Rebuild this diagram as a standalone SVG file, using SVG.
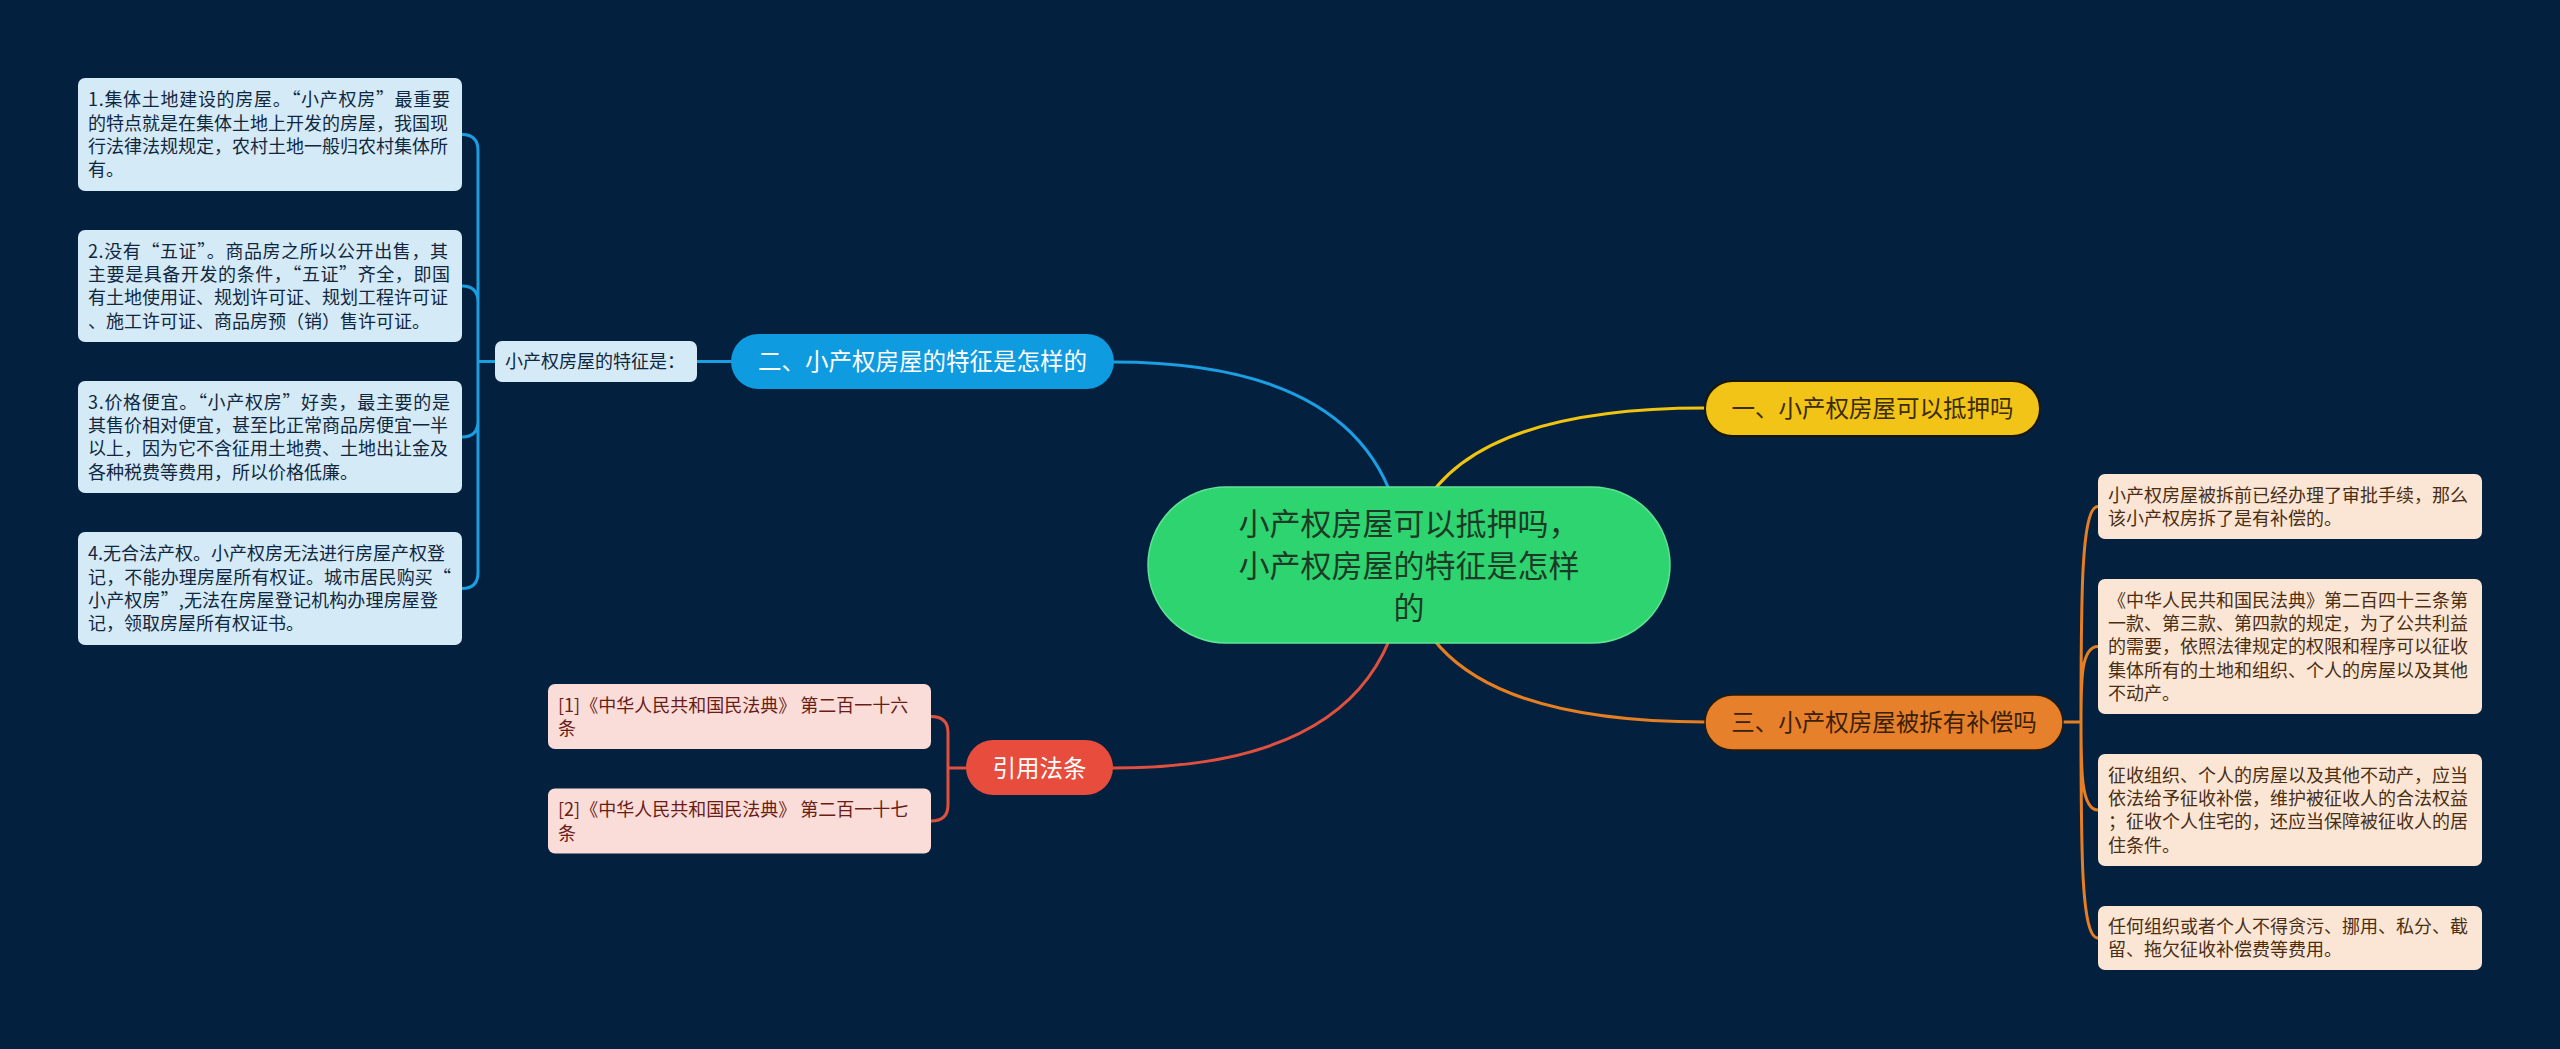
<svg xmlns="http://www.w3.org/2000/svg" width="2560" height="1049" viewBox="0 0 2560 1049">
<style>
text{font-family:"Noto Sans CJK SC","Noto Sans",sans-serif}
.leaf{font-size:18px}
.lb rect{fill:#d5eaf7}
.lb text{fill:#10283f}
.rb rect{fill:#fbe6d5}
.rb text{fill:#4a2e14}
.cb rect{fill:#fadcd9}
.cb text{fill:#6a1d15}
.main{font-size:23.5px;text-anchor:middle}
.lnk{fill:none;stroke-width:3;stroke-linecap:round}
</style>
<rect width="2560" height="1049" fill="#03213f"/>
<g id="connectors">
<path class="lnk" stroke="#1b9ee2" d="M1113 362 Q1395 362 1405 565"/>
<path class="lnk" stroke="#e0503f" d="M1113 768 Q1395 768 1405 565"/>
<path class="lnk" stroke="#f1c40f" d="M1705 408 Q1420 408 1405 565"/>
<path class="lnk" stroke="#e67e22" d="M1705 722 Q1420 722 1405 565"/>
<path class="lnk" stroke="#1b9ee2" d="M697 361.5 L731 361.5 M478 361.5 L495 361.5 M462 134.5 Q478 134.5 478 150.5 L478 572.5 Q478 588.5 462 588.5 M462 286 Q478 286 478 302 M462 437 Q478 437 478 421"/>
<path class="lnk" stroke="#e0503f" d="M948 768 L966 768 M931 716.5 Q948 716.5 948 732.5 L948 805 Q948 821 931 821"/>
<path class="lnk" stroke="#e67e22" d="M2063 722 L2081 722 M2081 722 C2081 600 2081 506.5 2098 506.5 M2081 722 C2081 680 2081 646.5 2098 646.5 M2081 722 C2081 770 2081 810 2098 810 M2081 722 C2081 850 2081 938 2098 938"/>
</g>
<g id="center">
<rect x="1148" y="487" width="522" height="156" rx="78" fill="#2ed470" stroke="#5fe394" stroke-width="1.5"/>
<text font-size="31" fill="#1c3a26" text-anchor="middle"><tspan x="1409" y="535">小产权房屋可以抵押吗，</tspan><tspan x="1409" y="577">小产权房屋的特征是怎样</tspan><tspan x="1409" y="619">的</tspan></text>
</g>
<g id="n1">
<rect x="1705" y="381" width="335" height="55" rx="27.5" fill="#f1c417" stroke="#1a1606" stroke-width="2"/>
<text class="main" x="1872.5" y="417" fill="#3a2c05">一、小产权房屋可以抵押吗</text>
</g>
<g id="n2">
<rect x="731" y="334" width="383" height="55" rx="27.5" fill="#0f9be0"/>
<text class="main" x="922.5" y="370" fill="#ffffff">二、小产权房屋的特征是怎样的</text>
</g>
<g id="n3">
<rect x="1705" y="695" width="358" height="55" rx="27.5" fill="#e7802a" stroke="#2a1a08" stroke-width="1.5"/>
<text class="main" x="1884" y="731" fill="#3a2008">三、小产权房屋被拆有补偿吗</text>
</g>
<g id="n4">
<rect x="966" y="740" width="147" height="55" rx="27.5" fill="#e74c3c"/>
<text class="main" x="1039.5" y="776.5" fill="#ffffff">引用法条</text>
</g>
<g id="n2-sub" class="lb">
<rect x="495" y="341" width="202" height="41" rx="7"/>
<text class="leaf" x="505" y="368">小产权房屋的特征是：</text>
</g>
<g id="l1" class="lb leaf">
<rect x="78" y="78" width="384" height="113" rx="7"/>
<text x="88" y="106.3" textLength="362" lengthAdjust="spacing">1.集体土地建设的房屋。“小产权房”最重要</text>
<text><tspan x="88" y="129.6">的特点就是在集体土地上开发的房屋，我国现</tspan><tspan x="88" y="152.9">行法律法规规定，农村土地一般归农村集体所</tspan><tspan x="88" y="176.2">有。</tspan></text>
</g>
<g id="l2" class="lb leaf">
<rect x="78" y="230" width="384" height="112" rx="7"/>
<text x="88" y="257.85" textLength="360" lengthAdjust="spacing">2.没有“五证”。商品房之所以公开出售，其</text>
<text x="88" y="281.15" textLength="362" lengthAdjust="spacing">主要是具备开发的条件，“五证”齐全，即国</text>
<text><tspan x="88" y="304.45">有土地使用证、规划许可证、规划工程许可证</tspan><tspan x="88" y="327.75">、施工许可证、商品房预（销）售许可证。</tspan></text>
</g>
<g id="l3" class="lb leaf">
<rect x="78" y="381" width="384" height="112" rx="7"/>
<text x="88" y="408.85" textLength="362" lengthAdjust="spacing">3.价格便宜。“小产权房”好卖，最主要的是</text>
<text><tspan x="88" y="432.15">其售价相对便宜，甚至比正常商品房便宜一半</tspan><tspan x="88" y="455.45">以上，因为它不含征用土地费、土地出让金及</tspan><tspan x="88" y="478.75">各种税费等费用，所以价格低廉。</tspan></text>
</g>
<g id="l4" class="lb leaf">
<rect x="78" y="532" width="384" height="113" rx="7"/>
<text x="88" y="560.35">4.无合法产权。小产权房无法进行房屋产权登</text>
<text x="88" y="583.65" textLength="363" lengthAdjust="spacing">记，不能办理房屋所有权证。城市居民购买“</text>
<text x="88" y="606.95" textLength="350" lengthAdjust="spacing">小产权房”,无法在房屋登记机构办理房屋登</text>
<text x="88" y="630.25">记，领取房屋所有权证书。</text>
</g>
<g id="c1" class="cb leaf">
<rect x="548" y="684" width="383" height="65" rx="7"/>
<text><tspan x="558" y="711.6">[1]《中华人民共和国民法典》 第二百一十六</tspan><tspan x="558" y="735">条</tspan></text>
</g>
<g id="c2" class="cb leaf">
<rect x="548" y="788.5" width="383" height="65" rx="7"/>
<text><tspan x="558" y="816">[2]《中华人民共和国民法典》 第二百一十七</tspan><tspan x="558" y="839.5">条</tspan></text>
</g>
<g id="r1" class="rb leaf">
<rect x="2098" y="474" width="384" height="65" rx="7"/>
<text><tspan x="2108" y="501.7">小产权房屋被拆前已经办理了审批手续，那么</tspan><tspan x="2108" y="525">该小产权房拆了是有补偿的。</tspan></text>
</g>
<g id="r2" class="rb leaf">
<rect x="2098" y="579" width="384" height="135" rx="7"/>
<text><tspan x="2108" y="606.7">《中华人民共和国民法典》第二百四十三条第</tspan><tspan x="2108" y="630">一款、第三款、第四款的规定，为了公共利益</tspan><tspan x="2108" y="653.3">的需要，依照法律规定的权限和程序可以征收</tspan><tspan x="2108" y="676.6">集体所有的土地和组织、个人的房屋以及其他</tspan><tspan x="2108" y="699.9">不动产。</tspan></text>
</g>
<g id="r3" class="rb leaf">
<rect x="2098" y="754" width="384" height="112" rx="7"/>
<text><tspan x="2108" y="781.85">征收组织、个人的房屋以及其他不动产，应当</tspan><tspan x="2108" y="805.15">依法给予征收补偿，维护被征收人的合法权益</tspan><tspan x="2108" y="828.45">；征收个人住宅的，还应当保障被征收人的居</tspan><tspan x="2108" y="851.75">住条件。</tspan></text>
</g>
<g id="r4" class="rb leaf">
<rect x="2098" y="906" width="384" height="64" rx="7"/>
<text><tspan x="2108" y="933.15">任何组织或者个人不得贪污、挪用、私分、截</tspan><tspan x="2108" y="956.45">留、拖欠征收补偿费等费用。</tspan></text>
</g>
</svg>
